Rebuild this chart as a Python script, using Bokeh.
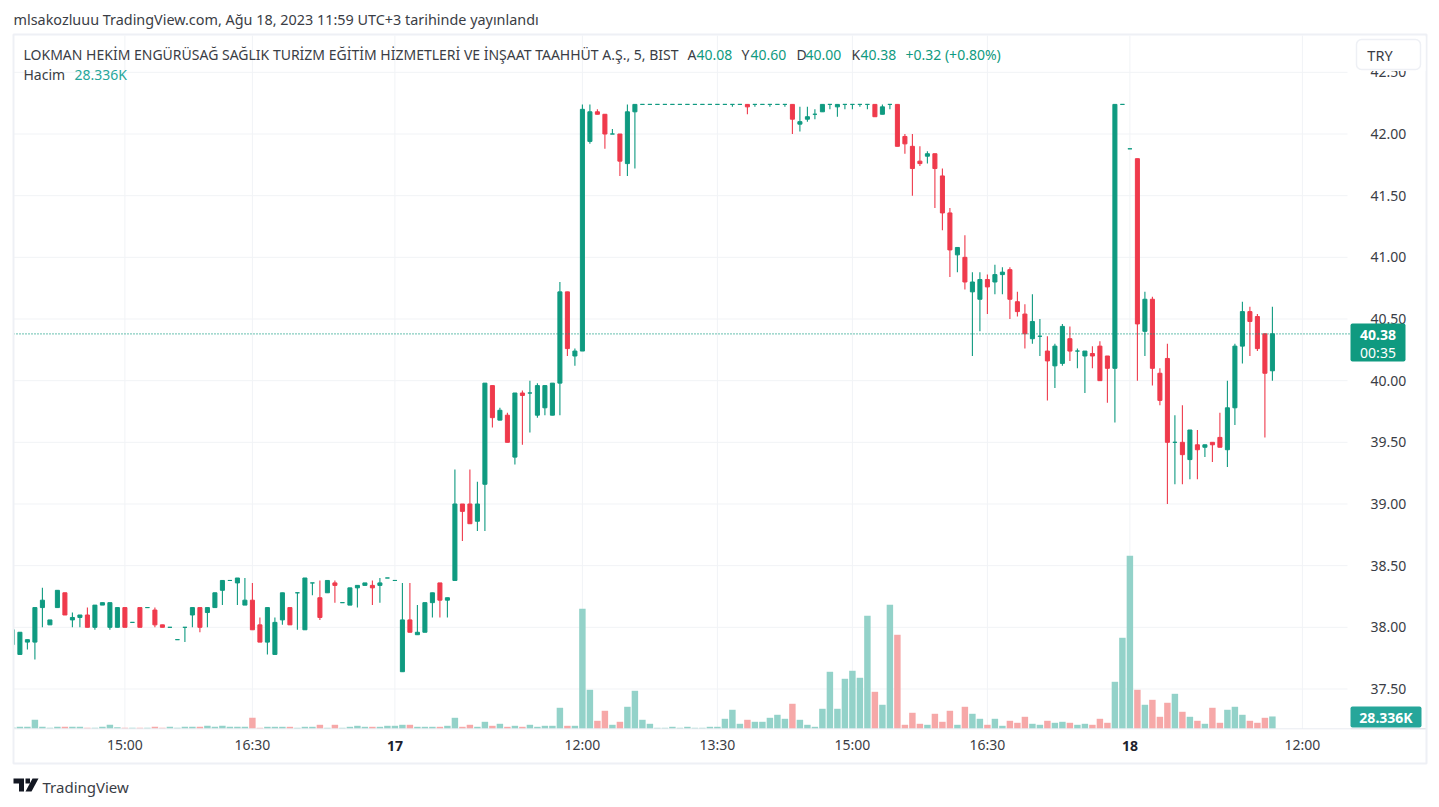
from bokeh.plotting import figure
from bokeh.embed import file_html
from bokeh.resources import INLINE
from bokeh.models import (Range1d, FixedTicker, NumeralTickFormatter, Label,
                          BoxAnnotation, PolyAnnotation, ColumnDataSource)

opens = [37.86,37.78,37.88,37.88,38.16,38.02,38.16,38.28,38.06,38.08,38.10,38.00,38.18,38.00,38.00,38.16,38.04,38.16,38.16,38.14,
38.02,38.00,37.90,38.00,38.10,38.16,38.12,38.16,38.30,38.38,38.36,38.18,38.22,38.02,37.88,37.78,38.06,38.16,38.28,37.98,
38.36,38.24,38.28,38.36,38.20,38.18,38.32,38.34,38.34,38.34,38.40,38.38,37.64,38.06,37.94,37.96,38.20,38.36,38.22,38.38,
39.00,39.00,38.86,39.16,39.96,39.68,39.72,39.38,39.90,39.90,39.72,39.78,39.72,39.98,40.72,40.20,40.24,41.94,42.18,42.16,
42.00,42.00,41.76,42.18,42.24,42.24,42.24,42.24,42.24,42.24,42.24,42.24,42.24,42.24,42.24,42.24,42.24,42.24,42.24,42.24,
42.24,42.24,42.24,42.24,42.24,42.08,42.12,42.16,42.18,42.24,42.22,42.24,42.24,42.24,42.24,42.24,42.16,42.24,42.24,41.98,
41.90,41.78,41.82,41.84,41.66,41.36,41.02,41.00,40.72,40.66,40.82,40.80,40.86,40.90,40.64,40.54,40.34,40.36,40.24,40.12,
40.14,40.34,40.24,40.20,40.22,40.28,40.20,40.10,42.24,41.88,41.80,40.40,40.66,40.06,40.18,39.50,39.50,39.36,39.48,39.46,
39.50,39.54,39.44,39.78,40.28,40.56,40.52,40.38,40.08]
highs = [37.98,37.96,37.90,38.16,38.32,38.06,38.30,38.28,38.12,38.10,38.16,38.18,38.20,38.20,38.16,38.16,38.04,38.16,38.16,38.16,
38.02,38.00,37.90,38.00,38.16,38.16,38.16,38.28,38.38,38.38,38.40,38.40,38.36,38.08,38.16,38.08,38.28,38.16,38.28,38.40,
38.36,38.38,38.38,38.38,38.20,38.32,38.34,38.36,38.38,38.40,38.40,38.38,38.36,38.36,38.18,38.20,38.28,38.36,38.24,39.28,
39.00,39.28,39.18,39.98,39.96,39.78,39.74,39.90,39.92,40.00,39.98,39.96,39.98,40.80,40.72,40.26,42.24,42.24,42.20,42.16,
42.04,42.00,42.24,42.24,42.24,42.24,42.24,42.24,42.24,42.24,42.24,42.24,42.24,42.24,42.24,42.24,42.24,42.24,42.24,42.24,
42.24,42.24,42.24,42.24,42.24,42.22,42.22,42.20,42.24,42.24,42.24,42.24,42.24,42.24,42.24,42.24,42.24,42.24,42.24,42.00,
42.00,41.90,41.86,41.84,41.72,41.40,41.08,41.18,40.88,40.88,40.86,40.94,40.92,40.92,40.72,40.62,40.70,40.50,40.36,40.30,
40.46,40.44,40.26,40.24,40.28,40.32,40.20,42.24,42.24,41.88,41.80,40.72,40.68,40.10,40.30,39.72,39.80,39.60,39.60,39.48,
39.50,39.74,40.00,40.30,40.64,40.60,40.54,40.38,40.60]
lows = [37.86,37.78,37.82,37.74,38.00,38.02,38.16,38.10,38.00,38.00,38.00,37.98,38.18,37.98,38.00,38.00,38.04,38.00,38.16,38.00,
38.00,38.00,37.90,37.88,38.00,37.96,38.00,38.16,38.18,38.38,38.18,38.18,37.98,37.88,37.78,37.78,38.02,38.02,37.98,37.98,
38.26,38.06,38.28,38.20,38.20,38.18,38.16,38.34,38.18,38.20,38.40,38.38,37.64,37.96,37.94,37.96,38.08,38.08,38.08,38.38,
38.70,38.84,38.78,38.78,39.62,39.68,39.50,39.32,39.48,39.58,39.70,39.72,39.72,39.72,40.20,40.12,40.24,41.92,42.16,41.88,
42.00,41.66,41.66,41.72,42.24,42.24,42.24,42.24,42.24,42.24,42.24,42.24,42.24,42.24,42.24,42.24,42.22,42.24,42.16,42.22,
42.24,42.22,42.24,42.22,42.00,42.02,42.10,42.12,42.18,42.20,42.14,42.20,42.20,42.22,42.20,42.14,42.16,42.20,41.90,41.84,
41.50,41.74,41.76,41.40,41.22,40.84,40.88,40.74,40.20,40.40,40.54,40.70,40.70,40.50,40.52,40.26,40.30,40.20,39.84,39.94,
40.12,40.16,40.10,39.90,40.10,40.00,39.82,39.66,42.24,41.88,40.00,40.20,39.96,39.80,39.00,39.16,39.16,39.20,39.20,39.38,
39.34,39.46,39.30,39.64,40.14,40.20,40.24,39.54,40.00]
closes = [37.98,37.96,37.90,38.16,38.22,38.06,38.30,38.10,38.08,38.10,38.00,38.18,38.20,38.20,38.16,38.00,38.04,38.00,38.16,38.02,
38.00,38.00,37.90,38.00,38.16,38.00,38.16,38.28,38.38,38.38,38.40,38.22,37.98,37.88,38.16,38.04,38.28,38.02,38.28,38.40,
38.36,38.08,38.38,38.34,38.20,38.32,38.34,38.36,38.32,38.36,38.40,38.38,38.06,37.96,37.96,38.20,38.28,38.22,38.24,39.00,
38.94,38.84,39.00,39.98,39.70,39.76,39.50,39.90,39.88,39.90,39.96,39.96,39.98,40.72,40.26,40.24,42.20,42.18,42.16,42.00,
42.00,41.78,42.18,42.24,42.24,42.24,42.24,42.24,42.24,42.24,42.24,42.24,42.24,42.24,42.24,42.24,42.24,42.24,42.22,42.24,
42.24,42.24,42.24,42.24,42.12,42.10,42.14,42.16,42.24,42.24,42.24,42.24,42.24,42.24,42.24,42.14,42.22,42.24,41.90,41.92,
41.72,41.76,41.84,41.72,41.36,41.06,41.08,40.80,40.80,40.82,40.76,40.86,40.88,40.66,40.56,40.38,40.48,40.36,40.16,40.28,
40.44,40.24,40.24,40.24,40.20,40.00,40.10,42.24,42.24,41.88,40.46,40.66,40.10,39.84,39.50,39.50,39.40,39.60,39.44,39.48,
39.48,39.46,39.78,40.28,40.56,40.48,40.26,40.06,40.38]
volumes_k = [3.1,4.6,4.6,20.7,4.6,2.3,4.6,4.6,4.6,4.6,2.3,2.3,4.6,9.2,3.4,2.3,2.3,2.3,2.3,4.6,
2.3,4.6,2.3,4.6,4.6,4.6,6.9,4.6,6.9,4.6,4.6,4.6,25.3,2.3,4.6,4.6,4.6,4.6,2.3,4.6,
4.6,9.2,2.3,9.2,2.3,4.6,6.9,4.6,4.6,4.6,6.9,6.9,9.2,9.2,4.6,4.6,4.6,4.6,6.9,25.3,
4.6,9.2,4.6,16.1,6.9,11.5,4.6,6.9,4.6,9.2,4.6,6.9,6.9,48.3,6.9,6.9,275.8,89.6,18.4,41.4,
9.2,16.1,50.6,87.3,20.7,11.5,2.3,2.3,4.6,2.3,4.6,2.3,2.3,4.6,4.6,23.0,43.7,11.5,20.7,16.1,
16.1,25.3,32.2,23.0,57.5,20.7,9.2,4.6,46.0,131.0,46.0,114.9,133.3,117.2,259.7,85.0,55.2,285.0,216.0,9.2,
36.8,11.5,9.2,34.5,16.1,41.4,9.2,50.6,34.5,23.0,9.2,23.0,6.9,18.4,13.8,27.6,11.5,9.2,18.4,13.8,
16.1,13.8,9.2,11.5,9.2,23.0,13.8,108.0,209.1,397.6,89.6,55.2,66.6,27.6,59.8,80.4,39.1,27.6,18.4,11.5,
48.3,13.8,43.7,50.6,32.2,18.4,13.8,25.3,28.336]
x_tick_bars = [15, 32, 76, 94, 112, 130, 172]
x_tick_labels = ["15:00", "16:30", "12:00", "13:30", "15:00", "16:30", "12:00"]
day_tick_bars = [51, 149]
day_tick_labels = ["17", "18"]
price_ticks = [37.5, 38.0, 38.5, 39.0, 39.5, 40.0, 40.5, 41.0, 41.5, 42.0, 42.5]
last_price = 40.38
GREEN, RED = "#0f9a80", "#ef3a4c"
VGREEN, VRED = "#93d2c9", "#f6a8a8"
GRID = "#f1f3f6"
BORDER = "#eef0f5"
TEXT = "#3a3d45"
FONT = "Noto Sans"
LEG_FONT = "14px"
WIDTH, HEIGHT = 1439, 807
BASE_Y = 728.3
PX_PER_K = 0.4353

def px_x(x):
    return (x - 11.9) / 7.5
def px_y(y):
    return 42 - (y - 133.5) / 123.33

p = figure(width=WIDTH, height=HEIGHT, output_backend="svg", toolbar_location=None,
           y_axis_location="right", x_range=Range1d(px_x(0), px_x(WIDTH)),
           y_range=Range1d(px_y(HEIGHT), px_y(0)),
           min_border=0)
p.outline_line_color = None
p.background_fill_color = "white"
p.border_fill_color = "white"
p.extra_y_ranges = {"vol": Range1d(-(HEIGHT - BASE_Y) / PX_PER_K, BASE_Y / PX_PER_K)}
p.grid.visible = False

# grid
vx = sorted(x_tick_bars + day_tick_bars)
p.segment(x0=vx, x1=vx, y0=[px_y(35)] * len(vx), y1=[px_y(BASE_Y)] * len(vx), line_color=GRID, line_width=1)
p.segment(x0=[px_x(13)] * len(price_ticks), x1=[px_x(1347)] * len(price_ticks), y0=price_ticks, y1=price_ticks,
          line_color=GRID, line_width=1)

idx = list(range(len(opens)))
up = [c >= o for o, c in zip(opens, closes)]
src = ColumnDataSource(dict(
    x=idx, o=opens, h=highs, l=lows, c=closes, v=volumes_k,
    top=[max(o, c) for o, c in zip(opens, closes)],
    bot=[min(o, c) for o, c in zip(opens, closes)],
    col=[GREEN if u else RED for u in up],
    vcol=[VGREEN if u else VRED for u in up]))
p.vbar(x="x", top="v", bottom=0, width=0.86, fill_color="vcol", line_color=None, y_range_name="vol", source=src)
p.segment(x0="x", x1="x", y0="l", y1="h", line_color="col", line_width=1.1, source=src)
p.vbar(x="x", top="top", bottom="bot", width=0.54, fill_color="col", line_color="col", line_width=1, source=src)

# last price line and pane baseline
p.segment(x0=[px_x(13)], x1=[px_x(1350)], y0=[last_price], y1=[last_price], line_color=GREEN, line_dash="1 2", line_width=1.2)
p.segment(x0=[px_x(13)], x1=[px_x(1350)], y0=[px_y(BASE_Y)], y1=[px_y(BASE_Y)], line_color="#e9ecf1", line_width=1)
p.segment(x0=[px_x(1350)], x1=[px_x(1426)], y0=[px_y(BASE_Y)], y1=[px_y(BASE_Y)], line_color="#d8dbe2", line_width=1)

p.xaxis.fixed_location = px_y(BASE_Y)
p.xaxis.ticker = FixedTicker(ticks=x_tick_bars)
p.xaxis.major_label_overrides = dict(zip(x_tick_bars, x_tick_labels))
p.xaxis.axis_line_color = None
p.xaxis.major_tick_line_color = None
p.xaxis.minor_tick_line_color = None
p.xaxis.major_label_text_font = FONT
p.xaxis.major_label_text_font_size = "14px"
p.xaxis.major_label_text_color = TEXT
p.xaxis.major_label_standoff = 0
p.yaxis.fixed_location = px_x(1347)
p.yaxis.ticker = FixedTicker(ticks=price_ticks)
p.yaxis.formatter = NumeralTickFormatter(format="0.00")
p.yaxis.axis_line_color = None
p.yaxis.major_tick_line_color = None
p.yaxis.minor_tick_line_color = None
p.yaxis.major_label_text_font = FONT
p.yaxis.major_label_text_font_size = "14px"
p.yaxis.major_label_text_color = TEXT
p.yaxis.major_label_standoff = 17

def box(x0, y0, x1, y1, fill=None, line=None, lw=1, radius=0):
    p.add_layout(BoxAnnotation(left=px_x(x0), right=px_x(x1), top=px_y(y0), bottom=px_y(y1),
                               fill_color=fill or "white", fill_alpha=1 if fill else 0,
                               line_color=line or "white", line_width=lw, line_alpha=1 if line else 0,
                               border_radius=radius))
def txt(x, y, s, color=TEXT, size=LEG_FONT, align="left", style="normal", font=FONT):
    p.add_layout(Label(x=px_x(x), y=px_y(y), text=s, text_color=color, text_font_size=size,
                       text_align=align, text_baseline="middle", text_font_style=style, text_font=font))
def poly(pts, color):
    p.add_layout(PolyAnnotation(xs=[px_x(a) for a, b in pts], ys=[px_y(b) for a, b in pts],
                                fill_color=color, fill_alpha=1, line_color=None))

for b, lab in zip(day_tick_bars, day_tick_labels):
    txt(11.9 + 7.5 * b, 745, lab, color="#1e222d", size="14px", align="center", style="bold")

box(0, 36, 13, 731, fill="white")
box(13, 34, 1426, 763, line=BORDER, lw=2)
box(1350, 36, 1425, 70.5, fill="white")
box(1356, 39, 1420, 69, line=BORDER, lw=1.5, radius=5)
txt(1379.5, 54.5, "TRY", size="14.5px", align="center")

box(1350, 323, 1405, 361, fill="#0f9a80", radius=2)
txt(1377.5, 334, "40.38", color="white", size="14px", align="center", style="bold")
txt(1377.5, 352, "00:35", color="white", size="14px", align="center")
box(1350, 706, 1421, 727, fill="#26a69a", radius=2)
txt(1385.5, 716.5, "28.336K", color="white", size="14px", align="center", style="bold")

txt(13, 19, "mlsakozluuu TradingView.com, Ağu 18, 2023 11:59 UTC+3 tarihinde yayınlandı", size="14.4px")
txt(23, 54, "LOKMAN HEKİM ENGÜRÜSAĞ SAĞLIK TURİZM EĞİTİM HİZMETLERİ VE İNŞAAT TAAHHÜT A.Ş., 5, BIST")
for x, a, v in [(687, "A", "40.08"), (741, "Y", "40.60"), (796, "D", "40.00"), (851, "K", "40.38")]:
    txt(x, 54, a)
    txt(x + 9, 54, v, color=GREEN)
txt(905, 54, "+0.32 (+0.80%)", color=GREEN)
txt(23, 74, "Hacim")
txt(74, 74, "28.336K", color="#26a69a")

poly([(13, 778), (23.5, 778), (23.5, 791), (18.5, 791), (18.5, 783), (13, 783)], "#131722")
poly([(25, 778), (29.5, 778), (29.5, 783), (25, 783)], "#131722")
poly([(32, 778), (38, 778), (31, 791), (25, 791)], "#131722")
txt(42, 786, "TradingView", size="15px", color="#3a3d45")

open("out.html", "w").write(file_html(p, INLINE))
